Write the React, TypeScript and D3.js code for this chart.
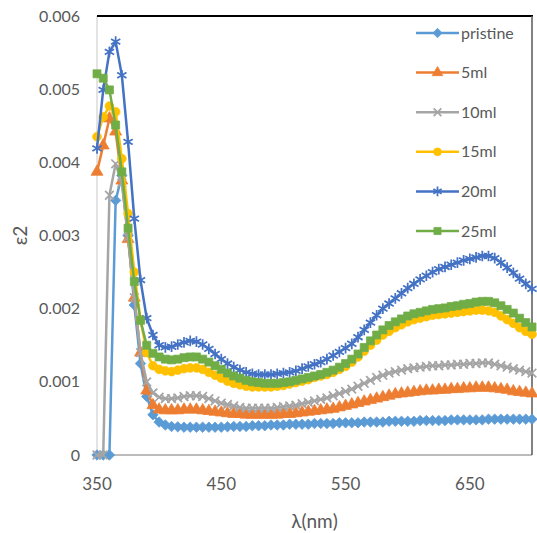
import React from "react";
import * as d3 from "d3";

// Wavelength grid (nm)
const wavelengths = [
  350, 355, 360, 365, 370, 375, 380, 385, 390, 395, 400, 405, 410, 415, 420, 425,
  430, 435, 440, 445, 450, 455, 460, 465, 470, 475, 480, 485, 490, 495, 500, 505,
  510, 515, 520, 525, 530, 535, 540, 545, 550, 555, 560, 565, 570, 575, 580, 585,
  590, 595, 600, 605, 610, 615, 620, 625, 630, 635, 640, 645, 650, 655, 660, 665,
  670, 675, 680, 685, 690, 695, 700,
];

// Imaginary dielectric constant ε2 for each sample
const pristine = [
  0, 0, 0, 0.00348, 0.00382, 0.003, 0.00205, 0.00125, 0.0008, 0.00055, 0.00045, 0.00041,
  0.00039, 0.000385, 0.00038, 0.00038, 0.00038, 0.00038, 0.00038, 0.00038, 0.00038,
  0.000385, 0.00039, 0.00039, 0.00039, 0.0004, 0.0004, 0.0004, 0.00041, 0.00041, 0.00041,
  0.00042, 0.00042, 0.00042, 0.00042, 0.00043, 0.00043, 0.00043, 0.00043, 0.00044, 0.00044,
  0.00044, 0.00044, 0.00045, 0.00045, 0.00045, 0.00045, 0.00046, 0.00046, 0.00046, 0.00046,
  0.00046, 0.00047, 0.00047, 0.00047, 0.00047, 0.00047, 0.00048, 0.00048, 0.00048, 0.00048,
  0.00048, 0.00048, 0.00049, 0.00049, 0.00049, 0.00049, 0.00049, 0.00049, 0.00049, 0.00049,
];
const ml5 = [
  0.00387, 0.00423, 0.0046, 0.00442, 0.00375, 0.00295, 0.00215, 0.0014, 0.00088, 0.00068,
  0.00062, 0.00061, 0.00061, 0.00061, 0.00062, 0.00062, 0.00062, 0.00061, 0.0006, 0.00059,
  0.00058, 0.00057, 0.00056, 0.00056, 0.00055, 0.00055, 0.00055, 0.00055, 0.00055, 0.00055,
  0.00056, 0.00056, 0.00057, 0.00058, 0.00059, 0.0006, 0.00061, 0.00062, 0.00063, 0.00065,
  0.00067, 0.00069, 0.00071, 0.00073, 0.00075, 0.00077, 0.00079, 0.00081, 0.00083, 0.00084,
  0.00085, 0.00086, 0.00087, 0.00088, 0.00088, 0.00089, 0.00089, 0.0009, 0.0009, 0.00091,
  0.00091, 0.00092, 0.00092, 0.00092, 0.00091, 0.0009, 0.00089, 0.00087, 0.00086, 0.00085,
  0.00084,
];
const ml10 = [
  0, 0, 0.00355, 0.00398, 0.00372, 0.00298, 0.00215, 0.0014, 0.001, 0.00085, 0.00079,
  0.00077, 0.00077, 0.00078, 0.0008, 0.00081, 0.00081, 0.0008, 0.00077, 0.00074, 0.00071,
  0.00069, 0.00067, 0.00065, 0.00064, 0.00064, 0.00064, 0.00064, 0.00064, 0.00065, 0.00066,
  0.00067, 0.00068, 0.0007, 0.00072, 0.00074, 0.00076, 0.00078, 0.00081, 0.00084, 0.00087,
  0.0009, 0.00094, 0.00098, 0.00102, 0.00106, 0.00109, 0.00112, 0.00114, 0.00116, 0.00118,
  0.00119, 0.0012, 0.00121, 0.00122, 0.00122, 0.00123, 0.00123, 0.00124, 0.00124, 0.00125,
  0.00125, 0.00126, 0.00126, 0.00124, 0.00122, 0.0012, 0.00118, 0.00116, 0.00114, 0.00112,
];
const ml15 = [
  0.00435, 0.00462, 0.00477, 0.00469, 0.00405, 0.0033, 0.0025, 0.00185, 0.0014, 0.00122,
  0.00117, 0.00115, 0.00114, 0.00116, 0.00118, 0.00119, 0.00119, 0.00117, 0.00113, 0.00109,
  0.00105, 0.00101, 0.00098, 0.00096, 0.00094, 0.00093, 0.00093, 0.00093, 0.00093, 0.00094,
  0.00095, 0.00097, 0.00099, 0.00101, 0.00103, 0.00106, 0.00108, 0.0011, 0.00113, 0.00117,
  0.00121, 0.00127, 0.00134, 0.00142, 0.0015, 0.00157, 0.00164, 0.00169, 0.00174, 0.00178,
  0.00182, 0.00185, 0.00187, 0.00189, 0.00191, 0.00192, 0.00193, 0.00194, 0.00195, 0.00196,
  0.00197, 0.00198, 0.00198, 0.00197, 0.00195, 0.0019, 0.00185, 0.0018, 0.00174, 0.00169,
  0.00165,
];
const ml20 = [
  0.00419, 0.00499, 0.00551, 0.00565, 0.00519, 0.00428, 0.00323, 0.00239, 0.00187, 0.00164,
  0.0015, 0.00147, 0.00148, 0.00151, 0.00154, 0.00156, 0.00155, 0.00151, 0.00145, 0.00138,
  0.00131, 0.00125, 0.0012, 0.00116, 0.00113, 0.00111, 0.0011, 0.0011, 0.0011, 0.00111,
  0.00112, 0.00113, 0.00115, 0.00118, 0.00121, 0.00124, 0.00127, 0.00131, 0.00136, 0.00141,
  0.00146, 0.00152, 0.00161, 0.00171, 0.00181, 0.00191, 0.002, 0.00207, 0.00214, 0.00221,
  0.00228, 0.00234, 0.0024, 0.00245, 0.0025, 0.00254, 0.00257, 0.0026, 0.00263, 0.00266,
  0.00268, 0.0027, 0.00272, 0.00272, 0.00269, 0.00263, 0.00256, 0.00249, 0.00241, 0.00234,
  0.00227,
];
const ml25 = [
  0.00521, 0.00515, 0.00499, 0.00451, 0.00387, 0.0031, 0.00237, 0.00184, 0.0015, 0.00139,
  0.00134, 0.00131, 0.0013, 0.00131, 0.00133, 0.00134, 0.00134, 0.00131, 0.00127, 0.00122,
  0.00117, 0.00112, 0.00108, 0.00105, 0.00102, 0.001, 0.00099, 0.00098, 0.00098, 0.00098,
  0.00099, 0.001, 0.00102, 0.00104, 0.00106, 0.00108, 0.0011, 0.00113, 0.00116, 0.0012,
  0.00125, 0.00131, 0.00138, 0.00147, 0.00156, 0.00164, 0.00171, 0.00177, 0.00182, 0.00186,
  0.0019, 0.00193, 0.00195, 0.00197, 0.00199, 0.002, 0.00201, 0.00203, 0.00204, 0.00206,
  0.00207, 0.00209, 0.0021, 0.0021, 0.00208, 0.00204, 0.00199, 0.00194, 0.00187, 0.00181,
  0.00175,
];

const seriesNames = ["pristine", "5ml", "10ml", "15ml", "20ml", "25ml"];
const seriesValues = [pristine, ml5, ml10, ml15, ml20, ml25];
const seriesColors = ["#5B9BD5", "#ED7D31", "#A5A5A5", "#FFC000", "#4472C4", "#70AD47"];
const seriesMarkers = ["diamond", "triangle", "times", "circle", "asterisk", "square"];

const yTicks = [0, 0.001, 0.002, 0.003, 0.004, 0.005, 0.006];
const yTickLabels = ["0", "0.001", "0.002", "0.003", "0.004", "0.005", "0.006"];
const xTicks = [350, 450, 550, 650];
const xTickLabels = ["350", "450", "550", "650"];

const W = 537;
const H = 533;
const plot = { left: 97, right: 532, top: 16, bottom: 455 };
const FONT = "Lato, 'Open Sans', sans-serif";
const TEXT = "#595959";

const symbolTypes: Record<string, d3.SymbolType> = {
  diamond: d3.symbolDiamond2,
  triangle: d3.symbolTriangle,
  times: d3.symbolTimes,
  circle: d3.symbolCircle,
  asterisk: d3.symbolAsterisk,
  square: d3.symbolSquare,
};
const symbolSizes: Record<string, number> = {
  diamond: 70,
  triangle: 62,
  times: 50,
  circle: 60,
  asterisk: 80,
  square: 64,
};
const stroked = new Set(["times", "asterisk"]);

function Marker({ kind, color, x, y, scale = 1 }: { kind: string; color: string; x: number; y: number; scale?: number }) {
  const d = d3.symbol(symbolTypes[kind], symbolSizes[kind] * scale)() || "";
  const isStroke = stroked.has(kind);
  return (
    <path
      d={d}
      transform={`translate(${x},${y})`}
      fill={isStroke ? "none" : color}
      stroke={color}
      strokeWidth={isStroke ? 1.75 : 0.75}
    />
  );
}

export default function App() {
  const x = d3.scaleLinear().domain([350, 700]).range([plot.left, plot.right]);
  const y = d3.scaleLinear().domain([0, 0.006]).range([plot.bottom, plot.top]);
  const line = d3
    .line<number>()
    .x((_, i) => x(wavelengths[i]))
    .y((v) => y(v));

  const legendX = 416;
  const legendY0 = 33;
  const legendStep = 39.6;

  return (
    <svg
      width={W}
      height={H}
      style={{ position: "absolute", left: 0, top: 0, background: "#fff" }}
      fontFamily={FONT}
    >
      <rect width={W} height={H} fill="#fff" />

      {/* plot frame */}
      <line x1={plot.left} x2={plot.left} y1={plot.top} y2={plot.bottom} stroke="#C8C8C8" strokeWidth={1} />
      <line x1={plot.left} x2={plot.right} y1={plot.bottom} y2={plot.bottom} stroke="#A6A6A6" strokeWidth={1.5} />
      <line x1={plot.left} x2={plot.right + 1} y1={plot.top} y2={plot.top} stroke="#000" strokeWidth={2} />
      <line x1={plot.right} x2={plot.right} y1={plot.top} y2={plot.bottom} stroke="#595959" strokeWidth={1.5} />

      {/* y axis */}
      {yTicks.map((t, i) => (
        <text key={t} x={80} y={y(t)} dy="0.35em" textAnchor="end" fontSize={16} fill={TEXT}>
          {yTickLabels[i]}
        </text>
      ))}
      <text transform={`translate(27,${(plot.top + plot.bottom) / 2}) rotate(-90)`} textAnchor="middle" fontSize={19} fill={TEXT}>
        ε2
      </text>

      {/* x axis */}
      {xTicks.map((t, i) => (
        <text key={t} x={x(t)} y={490} textAnchor="middle" fontSize={17} fill={TEXT}>
          {xTickLabels[i]}
        </text>
      ))}
      <text x={(plot.left + plot.right) / 2} y={528} textAnchor="middle" fontSize={19} fill={TEXT}>
        λ(nm)
      </text>

      {/* series */}
      {seriesValues.map((vals, s) => (
        <g key={seriesNames[s]}>
          <path d={line(vals) || ""} fill="none" stroke={seriesColors[s]} strokeWidth={2.5} strokeLinejoin="round" />
          {vals.map((v, i) => (
            <Marker key={i} kind={seriesMarkers[s]} color={seriesColors[s]} x={x(wavelengths[i])} y={y(v)} />
          ))}
        </g>
      ))}

      {/* legend */}
      {seriesNames.map((name, s) => {
        const ly = legendY0 + s * legendStep;
        return (
          <g key={name}>
            <line x1={legendX} x2={legendX + 43} y1={ly} y2={ly} stroke={seriesColors[s]} strokeWidth={2.5} />
            <Marker kind={seriesMarkers[s]} color={seriesColors[s]} x={legendX + 21.5} y={ly} scale={0.8} />
            <text x={legendX + 45} y={ly} dy="0.35em" fontSize={16} fill={TEXT}>
              {name}
            </text>
          </g>
        );
      })}
    </svg>
  );
}
